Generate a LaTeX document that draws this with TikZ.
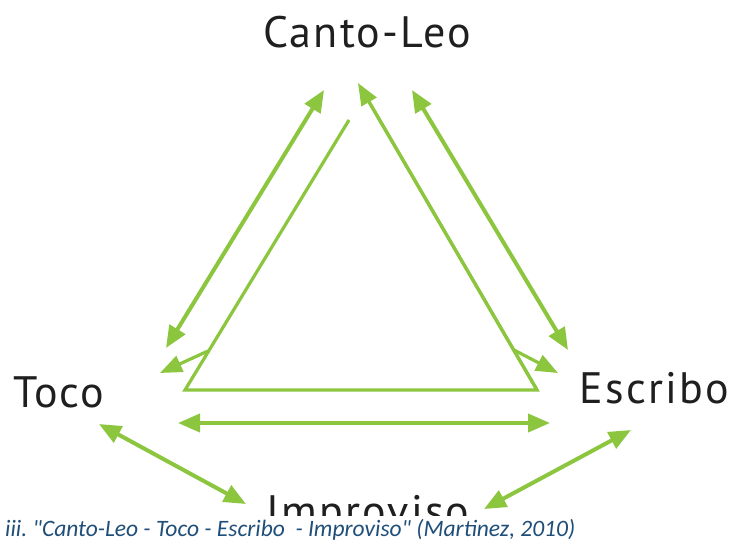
\documentclass[tikz,border=0pt]{standalone}
\usepackage{fontspec}
\setmainfont{PT Sans}[LetterSpace=5]
\newfontfamily\capfont{Carlito}
\usetikzlibrary{arrows.meta}
\definecolor{lgreen}{HTML}{8CC63F}
\definecolor{capblue}{HTML}{1F4E79}
\tikzset{
  lbl/.style={font=\fontsize{44}{44}\selectfont, text=black!88, inner sep=0pt},
  tri/.style={draw=lgreen, line width=3.2pt, line join=miter},
  dbl/.style={draw=lgreen, line width=4pt, {Triangle[length=22pt,width=18pt]}-{Triangle[length=22pt,width=18pt]}},
  sgl/.style={draw=lgreen, line width=3.2pt, -{Triangle[length=22pt,width=17pt]}},
}
\begin{document}
\frenchspacing
\begin{tikzpicture}[x=1pt,y=-1pt]
\useasboundingbox (0,0) rectangle (730,540);
\fill[white] (0,0) rectangle (730,540);
\node[lbl, anchor=base] (canto) at (367,48) {Canto-Leo};
\node[lbl, anchor=base west] (toco) at (13,407) {Toco};
\node[lbl, anchor=base east] (escribo) at (729,403) {Escribo};
\begin{scope}
\clip (0,470) rectangle (730,515);
\node[lbl, anchor=base] (impro) at (368,526) {Improviso};
\end{scope}
% triangle
\coordinate (tl) at (349,120);
\coordinate (bl) at (185,390);
\coordinate (br) at (537,390);
\coordinate (tr) at (358,83);
\draw[tri] (tl) -- (bl) -- (br) -- (368,100);
\draw[sgl] (br) -- (tr);
\coordinate (lb) at (208,351);
\coordinate (lbt) at (160,373);
\draw[sgl] (lb) -- (lbt);
\coordinate (rb) at (514,350);
\coordinate (rbt) at (558,373);
\draw[sgl] (rb) -- (rbt);
% double arrows
\coordinate (a1) at (324,90);
\coordinate (a2) at (166,348);
\draw[dbl] (a1) -- (a2);
\coordinate (b1) at (412,90);
\coordinate (b2) at (568,350);
\draw[dbl] (b1) -- (b2);
\coordinate (c1) at (178,423);
\coordinate (c2) at (550,423);
\draw[dbl] (c1) -- (c2);
\coordinate (d1) at (99,424);
\coordinate (d2) at (246,504);
\draw[dbl] (d1) -- (d2);
\coordinate (e1) at (631,430);
\coordinate (e2) at (484,509);
\draw[dbl] (e1) -- (e2);
\node[anchor=base west, inner sep=0pt, text=capblue, font=\capfont\itshape\fontsize{23.5}{23.5}\selectfont] (cap) at (5,536) {iii. "Canto-Leo - Toco - Escribo\ \ - Improviso" (Martinez, 2010)};
\end{tikzpicture}
\end{document}
